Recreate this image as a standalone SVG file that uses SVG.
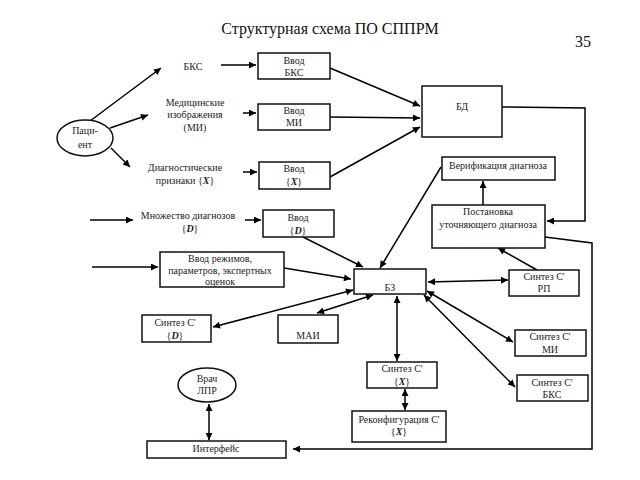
<svg xmlns="http://www.w3.org/2000/svg" width="640" height="480" viewBox="0 0 640 480">
<style>
text{font-family:"Liberation Serif","Times New Roman",serif;font-size:10px;fill:#222;text-anchor:middle}
.title{font-size:16px;fill:#111}
.box{fill:#fff;stroke:#111;stroke-width:1.5}
.ln{fill:none;stroke:#000;stroke-width:1.5}
.a{marker-end:url(#ah)}
.d{marker-start:url(#ah);marker-end:url(#ah)}
.bi{font-weight:bold;font-style:italic}
</style>
<defs>
<marker id="ah" viewBox="0 0 10 10" refX="10" refY="5" markerWidth="9" markerHeight="7" markerUnits="userSpaceOnUse" orient="auto-start-reverse"><path d="M0,0 L10,5 L0,10 z" fill="#000"/></marker>
</defs>
<rect width="640" height="480" fill="#fff"/>
<text class="title" x="330" y="34">Структурная схема ПО СППРМ</text>
<text class="title" x="583" y="47">35</text>

<g id="connectors">
<line class="ln a" x1="90" y1="121" x2="161" y2="68"/>
<line class="ln a" x1="110" y1="128" x2="148" y2="115"/>
<line class="ln a" x1="111" y1="148" x2="130" y2="167"/>
<line class="ln a" x1="221" y1="65" x2="256" y2="65"/>
<line class="ln a" x1="243" y1="113" x2="256" y2="113"/>
<line class="ln a" x1="243" y1="172" x2="257" y2="172"/>
<line class="ln a" x1="330" y1="68" x2="420" y2="106"/>
<line class="ln a" x1="330" y1="117" x2="420" y2="118"/>
<line class="ln a" x1="330" y1="177" x2="420" y2="127"/>
<polyline class="ln a" points="502,107 585,108 585,221 547,221"/>
<line class="ln a" x1="483" y1="205" x2="483" y2="181"/>
<line class="ln a" x1="441" y1="167" x2="380" y2="268"/>
<polyline class="ln a" points="545,237 592,243 592,449 293,449"/>
<line class="ln a" x1="90" y1="220" x2="133" y2="220"/>
<line class="ln a" x1="245" y1="220" x2="261" y2="220"/>
<line class="ln a" x1="92" y1="267" x2="158" y2="267"/>
<line class="ln a" x1="303" y1="237" x2="363" y2="267"/>
<line class="ln a" x1="284" y1="268" x2="351" y2="279"/>
<line class="ln d" x1="353" y1="290" x2="213" y2="327"/>
<line class="ln d" x1="373" y1="295" x2="317" y2="313"/>
<line class="ln d" x1="428" y1="282" x2="508" y2="280"/>
<line class="ln a" x1="537" y1="270" x2="498" y2="248"/>
<line class="ln d" x1="427" y1="291" x2="513" y2="342"/>
<line class="ln d" x1="424" y1="295" x2="515" y2="387"/>
<line class="ln d" x1="397" y1="296" x2="397" y2="361"/>
<line class="ln d" x1="405" y1="389" x2="405" y2="410"/>
<line class="ln d" x1="209" y1="404" x2="209" y2="440"/>
</g>

<g id="patient">
<ellipse class="box" cx="85" cy="138" rx="28" ry="18"/>
<text x="85" y="134">Паци-</text>
<text x="85" y="148">ент</text>
</g>
<g id="bks-label"><text x="193" y="70">БКС</text></g>
<g id="mi-label">
<text x="195" y="106">Медицинские</text>
<text x="195" y="118">изображения</text>
<text x="195" y="131">(МИ)</text>
</g>
<g id="x-label">
<text x="185" y="171">Диагностические</text>
<text x="185" y="184">признаки {<tspan class="bi">X</tspan>}</text>
</g>
<g id="vvod-bks">
<rect class="box" x="258" y="53" width="72" height="26"/>
<text x="294" y="64">Ввод</text>
<text x="294" y="76">БКС</text>
</g>
<g id="vvod-mi">
<rect class="box" x="258" y="104" width="72" height="26"/>
<text x="294" y="114">Ввод</text>
<text x="294" y="126">МИ</text>
</g>
<g id="vvod-x">
<rect class="box" x="259" y="162" width="71" height="27"/>
<text x="294" y="172">Ввод</text>
<text x="294" y="185">{<tspan class="bi">X</tspan>}</text>
</g>
<g id="bd">
<rect class="box" x="422" y="86" width="80" height="51"/>
<text x="462" y="110">БД</text>
</g>
<g id="verif">
<rect class="box" x="442" y="157" width="113" height="23"/>
<text x="498" y="169">Верификация диагноза</text>
</g>
<g id="postanovka">
<rect class="box" x="432" y="205" width="113" height="43"/>
<text x="488" y="215">Постановка</text>
<text x="488" y="228">уточняющего диагноза</text>
</g>
<g id="mnozh-label">
<text x="188" y="219">Множество диагнозов</text>
<text x="190" y="232">{<tspan class="bi">D</tspan>}</text>
</g>
<g id="vvod-d">
<rect class="box" x="263" y="210" width="71" height="27"/>
<text x="298" y="221">Ввод</text>
<text x="298" y="234">{<tspan class="bi">D</tspan>}</text>
</g>
<g id="vvod-rezh">
<rect class="box" x="160" y="252" width="124" height="35"/>
<text x="220" y="262">Ввод режимов,</text>
<text x="220" y="274">параметров, экспертных</text>
<text x="220" y="285">оценок</text>
</g>
<g id="bz">
<rect class="box" x="354" y="269" width="72" height="25"/>
<text x="390" y="291">БЗ</text>
</g>
<g id="sintez-d">
<rect class="box" x="142" y="315" width="69" height="27"/>
<text x="175" y="326">Синтез С'</text>
<text x="175" y="339">{<tspan class="bi">D</tspan>}</text>
</g>
<g id="mai">
<rect class="box" x="278" y="315" width="60" height="28"/>
<text x="308" y="339">МАИ</text>
</g>
<g id="sintez-rp">
<rect class="box" x="509" y="270" width="70" height="26"/>
<text x="544" y="280">Синтез С'</text>
<text x="544" y="292">РП</text>
</g>
<g id="sintez-mi">
<rect class="box" x="515" y="330" width="71" height="26"/>
<text x="550" y="340">Синтез С'</text>
<text x="550" y="353">МИ</text>
</g>
<g id="sintez-bks">
<rect class="box" x="517" y="375" width="71" height="26"/>
<text x="552" y="386">Синтез С'</text>
<text x="552" y="398">БКС</text>
</g>
<g id="sintez-x">
<rect class="box" x="367" y="362" width="70" height="26"/>
<text x="402" y="372">Синтез С'</text>
<text x="402" y="385">{<tspan class="bi">X</tspan>}</text>
</g>
<g id="rekonf">
<rect class="box" x="352" y="411" width="94" height="31"/>
<text x="399" y="423">Реконфигурация С'</text>
<text x="399" y="435">{<tspan class="bi">X</tspan>}</text>
</g>
<g id="vrach">
<ellipse class="box" cx="207" cy="385" rx="29" ry="17"/>
<text x="207" y="382">Врач</text>
<text x="207" y="394">ЛПР</text>
</g>
<g id="interface">
<rect class="box" x="147" y="441" width="139" height="17"/>
<text x="216" y="452">Интерфейс</text>
</g>
</svg>
